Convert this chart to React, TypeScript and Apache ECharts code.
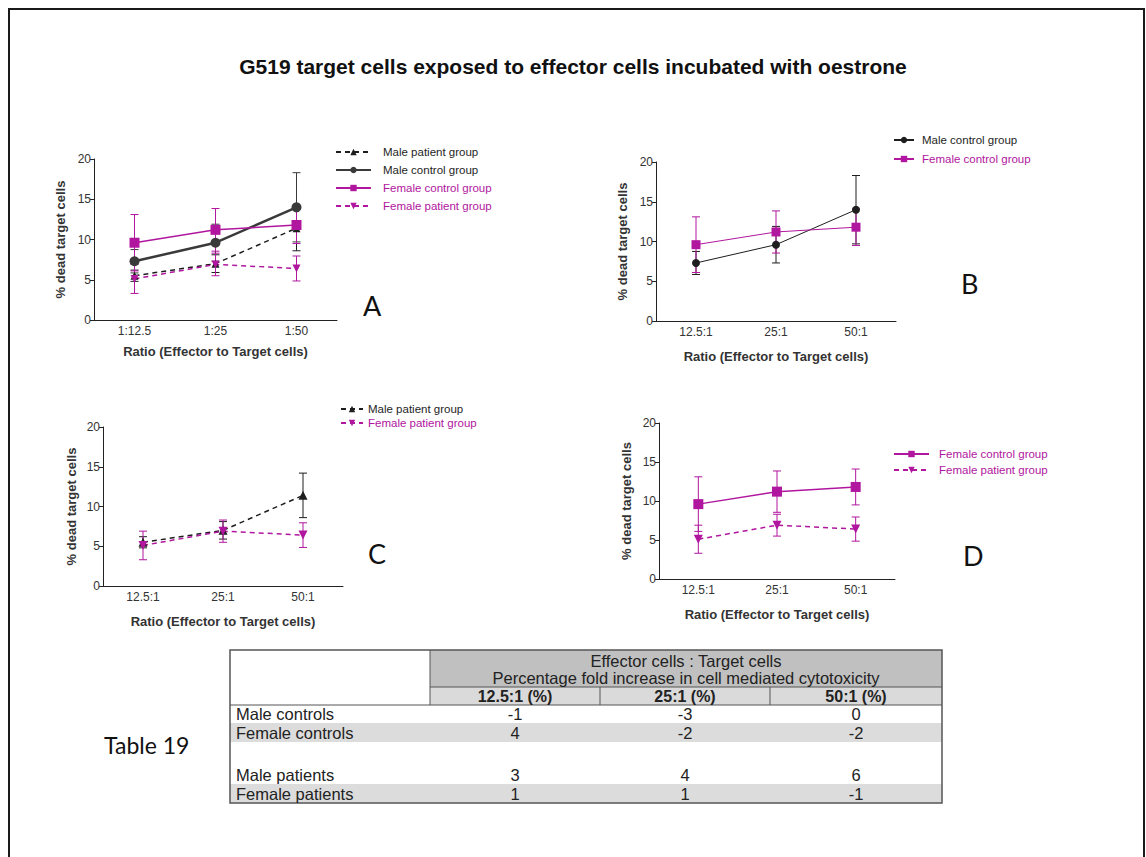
import React, { useEffect, useRef } from 'react';
import * as echarts from 'echarts';

// ---------- DATA ----------
const categoriesA = ['1:12.5', '1:25', '1:50'];
const categoriesBCD = ['12.5:1', '25:1', '50:1'];

const maleControlMean = [7.3, 9.6, 14.0];
const maleControlErr = [1.45, 2.3, 4.3];
const femaleControlMean = [9.6, 11.2, 11.8];
const femaleControlErr = [3.5, 2.65, 2.3];
const malePatientMean = [5.5, 7.0, 11.4];
const malePatientErr = [0.7, 1.1, 2.8];
const femalePatientMean = [5.1, 6.9, 6.4];
const femalePatientErr = [1.8, 1.4, 1.55];

const tableTitleLines = ['Effector cells : Target cells', 'Percentage fold increase in cell mediated cytotoxicity'];
const tableColumnHeaders = ['12.5:1 (%)', '25:1 (%)', '50:1 (%)'];
const tableRowLabels = ['Male controls', 'Female controls', '', 'Male patients', 'Female patients'];
const maleControlsFold = [-1, -3, 0];
const femaleControlsFold = [4, -2, -2];
const malePatientsFold = [3, 4, 6];
const femalePatientsFold = [1, 1, -1];

// ---------- STYLE ----------
const MAGENTA = '#b0169e';
const BLACK = '#1e1e1e';
const DARKGRAY = '#3a3a3a';
const FONT = "'Liberation Sans', Arial, sans-serif";

const grids = [
  { left: 94, top: 159, width: 243, height: 161 },
  { left: 656, top: 162, width: 240, height: 159 },
  { left: 103, top: 427, width: 240, height: 159 },
  { left: 659, top: 423, width: 236, height: 156 },
];
const xNameGaps = [25, 29, 29, 29];
const yNameGaps = [27, 27, 25, 26];

function lineSeries(name: string, idx: number, data: number[], color: string, dashed: boolean, lw: number, symbol: string, size: number, rotate = 0) {
  return {
    type: 'line',
    name,
    xAxisIndex: idx,
    yAxisIndex: idx,
    data,
    symbol,
    symbolSize: size,
    symbolRotate: rotate,
    showAllSymbol: true,
    z: 3,
    itemStyle: { color, borderWidth: 0 },
    lineStyle: { color, width: lw, type: dashed ? [5, 4] : 'solid' },
  };
}

function errorSeries(name: string, idx: number, means: number[], errs: number[], color: string) {
  return {
    type: 'custom',
    name,
    xAxisIndex: idx,
    yAxisIndex: idx,
    silent: true,
    z: 2,
    data: means.map((m, i) => [i, m, errs[i]]),
    encode: { x: 0, y: 1 },
    renderItem: (params: any, api: any) => {
      const x = api.value(0);
      const y = api.value(1);
      const e = api.value(2);
      const top = api.coord([x, y + e]);
      const bot = api.coord([x, y - e]);
      const hw = 4;
      const st = { stroke: color, lineWidth: 1 };
      return {
        type: 'group',
        children: [
          { type: 'line', shape: { x1: top[0], y1: top[1], x2: bot[0], y2: bot[1] }, style: st },
          { type: 'line', shape: { x1: top[0] - hw, y1: top[1], x2: top[0] + hw, y2: top[1] }, style: st },
          { type: 'line', shape: { x1: bot[0] - hw, y1: bot[1], x2: bot[0] + hw, y2: bot[1] }, style: st },
        ],
      };
    },
  };
}

function buildTable() {
  const els: any[] = [];
  const L = 230, R = 942, C0 = 430, C1 = 600, C2 = 770;
  const colCenters = [515, 685, 856];
  const top = 650, h1 = 687, h2 = 705;
  const rowTops = [705, 723, 742, 765, 784];
  const rowH = [18, 19, 23, 19, 19];
  const shaded = [false, true, false, false, true];
  const rowValues = [maleControlsFold, femaleControlsFold, null, malePatientsFold, femalePatientsFold];
  const bottom = 803;
  const TF = `16.5px ${FONT}`;
  els.push({ type: 'rect', shape: { x: C0, y: top, width: R - C0, height: h1 - top }, style: { fill: '#c0c0c0' } });
  els.push({ type: 'rect', shape: { x: C0, y: h1, width: R - C0, height: h2 - h1 }, style: { fill: '#dadada' } });
  rowTops.forEach((t, i) => {
    if (shaded[i]) els.push({ type: 'rect', shape: { x: L, y: t, width: R - L, height: rowH[i] }, style: { fill: '#dcdcdc' } });
  });
  const ls = { stroke: '#555', lineWidth: 1 };
  els.push({ type: 'rect', shape: { x: L, y: top, width: R - L, height: bottom - top }, style: { fill: 'none', stroke: '#555', lineWidth: 1.5 } });
  els.push({ type: 'line', shape: { x1: C0, y1: top, x2: C0, y2: h2 }, style: ls });
  els.push({ type: 'line', shape: { x1: C0, y1: h1, x2: R, y2: h1 }, style: ls });
  els.push({ type: 'line', shape: { x1: L, y1: h2, x2: R, y2: h2 }, style: ls });
  els.push({ type: 'line', shape: { x1: C1, y1: h1, x2: C1, y2: h2 }, style: ls });
  els.push({ type: 'line', shape: { x1: C2, y1: h1, x2: C2, y2: h2 }, style: ls });
  tableTitleLines.forEach((t, i) => {
    els.push({ type: 'text', x: (C0 + R) / 2, y: 661 + i * 17, style: { text: t, fill: '#222', font: TF, align: 'center', verticalAlign: 'middle' } });
  });
  tableColumnHeaders.forEach((t, i) => {
    els.push({ type: 'text', x: colCenters[i], y: 696, style: { text: t, fill: '#222', font: `bold 16px ${FONT}`, align: 'center', verticalAlign: 'middle' } });
  });
  tableRowLabels.forEach((lab, i) => {
    const cy = rowTops[i] + rowH[i] / 2;
    if (lab) els.push({ type: 'text', x: 236, y: cy, style: { text: lab, fill: '#222', font: TF, align: 'left', verticalAlign: 'middle' } });
    const vals = rowValues[i];
    if (vals) vals.forEach((v, j) => {
      els.push({ type: 'text', x: colCenters[j], y: cy, style: { text: String(v), fill: '#222', font: TF, align: 'center', verticalAlign: 'middle' } });
    });
  });
  els.push({ type: 'text', x: 104, y: 745, style: { text: 'Table 19', fill: '#111', font: `23px Lato, 'Open Sans', sans-serif`, align: 'left', verticalAlign: 'middle' } });
  return els;
}

export default function App() {
  const ref = useRef<HTMLDivElement>(null);
  useEffect(() => {
    if (!ref.current) return;
    const chart = echarts.init(ref.current, undefined, { renderer: 'svg' });

    const xAxis = grids.map((_, i) => ({
      type: 'category',
      gridIndex: i,
      data: i === 0 ? categoriesA : categoriesBCD,
      boundaryGap: true,
      axisLine: { lineStyle: { color: '#222', width: 1 } },
      axisTick: { alignWithLabel: true, length: 4, lineStyle: { color: '#222' } },
      axisLabel: { fontSize: 12, color: '#333', margin: 5, fontFamily: FONT },
      name: 'Ratio (Effector to Target cells)',
      nameLocation: 'middle',
      nameGap: xNameGaps[i],
      nameTextStyle: { fontSize: 13, fontWeight: 'bold', color: '#333', fontFamily: FONT },
      splitLine: { show: false },
    }));
    const yAxis = grids.map((_, i) => ({
      type: 'value',
      gridIndex: i,
      min: 0,
      max: 20,
      interval: 5,
      axisLine: { show: true, lineStyle: { color: '#222', width: 1 } },
      axisTick: { show: true, length: 4, lineStyle: { color: '#222' } },
      axisLabel: { fontSize: 12, color: '#333', margin: 3, fontFamily: FONT },
      splitLine: { show: false },
      name: '% dead target cells',
      nameLocation: 'middle',
      nameGap: yNameGaps[i],
      nameRotate: 90,
      nameTextStyle: { fontSize: 13, fontWeight: 'bold', color: '#333', fontFamily: FONT },
    }));

    const series: any[] = [
      errorSeries('errA1', 0, malePatientMean, malePatientErr, BLACK),
      errorSeries('errA2', 0, maleControlMean, maleControlErr, DARKGRAY),
      errorSeries('errA3', 0, femaleControlMean, femaleControlErr, MAGENTA),
      errorSeries('errA4', 0, femalePatientMean, femalePatientErr, MAGENTA),
      lineSeries('Male patient group|A', 0, malePatientMean, BLACK, true, 1.5, 'triangle', 8),
      lineSeries('Male control group|A', 0, maleControlMean, DARKGRAY, false, 2.5, 'circle', 10),
      lineSeries('Female control group|A', 0, femaleControlMean, MAGENTA, false, 1.5, 'rect', 10),
      lineSeries('Female patient group|A', 0, femalePatientMean, MAGENTA, true, 1.5, 'triangle', 8, 180),
      errorSeries('errB1', 1, maleControlMean, maleControlErr, BLACK),
      errorSeries('errB2', 1, femaleControlMean, femaleControlErr, MAGENTA),
      lineSeries('Male control group|B', 1, maleControlMean, BLACK, false, 1, 'circle', 8),
      lineSeries('Female control group|B', 1, femaleControlMean, MAGENTA, false, 1, 'rect', 9),
      errorSeries('errC1', 2, malePatientMean, malePatientErr, BLACK),
      errorSeries('errC2', 2, femalePatientMean, femalePatientErr, MAGENTA),
      lineSeries('Male patient group|C', 2, malePatientMean, BLACK, true, 1.5, 'triangle', 9),
      lineSeries('Female patient group|C', 2, femalePatientMean, MAGENTA, true, 1.5, 'triangle', 9, 180),
      errorSeries('errD1', 3, femaleControlMean, femaleControlErr, MAGENTA),
      errorSeries('errD2', 3, femalePatientMean, femalePatientErr, MAGENTA),
      lineSeries('Female control group|D', 3, femaleControlMean, MAGENTA, false, 1.5, 'rect', 10),
      lineSeries('Female patient group|D', 3, femalePatientMean, MAGENTA, true, 1.5, 'triangle', 9, 180),
    ];

    const legendText = (c: string, pad: number) => ({ color: c, fontSize: 11.5, fontFamily: FONT, padding: [0, 0, 0, pad] });
    const mkLegend = (left: number, top: number, w: number, gap: number, pad: number, items: [string, string][]) => ({
      orient: 'vertical',
      left,
      top,
      itemWidth: w,
      itemHeight: 8,
      itemGap: gap,
      selectedMode: false,
      formatter: (n: string) => n.split('|')[0],
      data: items.map(([n, c]) => ({ name: n, textStyle: legendText(c, pad) })),
      textStyle: legendText(BLACK, pad),
    });

    const legend = [
      mkLegend(330, 141, 35, 6, 7, [
        ['Male patient group|A', BLACK],
        ['Male control group|A', BLACK],
        ['Female control group|A', MAGENTA],
        ['Female patient group|A', MAGENTA],
      ]),
      mkLegend(888, 129, 20, 7, 3, [
        ['Male control group|B', BLACK],
        ['Female control group|B', MAGENTA],
      ]),
      mkLegend(335, 398, 22, 2, 0, [
        ['Male patient group|C', BLACK],
        ['Female patient group|C', MAGENTA],
      ]),
      mkLegend(888, 443, 35, 4, 5, [
        ['Female control group|D', MAGENTA],
        ['Female patient group|D', MAGENTA],
      ]),
    ];

    const letters = [
      ['A', 363, 305],
      ['B', 961, 283],
      ['C', 368, 553],
      ['D', 963, 555],
    ].map(([t, x, y]) => ({
      type: 'text',
      x,
      y,
      style: { text: t, fill: '#111', font: `27px Lato, 'Open Sans', sans-serif`, align: 'left', verticalAlign: 'middle' },
    }));

    const graphic = [
      { type: 'rect', shape: { x: 9, y: 9, width: 1135, height: 900 }, style: { fill: 'none', stroke: '#1a1a1a', lineWidth: 2 } },
      ...letters,
      ...buildTable(),
    ];

    chart.setOption({
      animation: false,
      backgroundColor: '#ffffff',
      title: {
        text: 'G519 target cells exposed to effector cells incubated with oestrone',
        left: 'center',
        top: 51,
        textStyle: { fontSize: 21, fontWeight: 'bold', color: '#111', fontFamily: FONT },
      },
      grid: grids,
      xAxis,
      yAxis,
      legend,
      series,
      graphic,
    });
    return () => chart.dispose();
  }, []);

  return <div ref={ref} style={{ position: 'absolute', left: 0, top: 0, width: 1146, height: 857 }} />;
}
